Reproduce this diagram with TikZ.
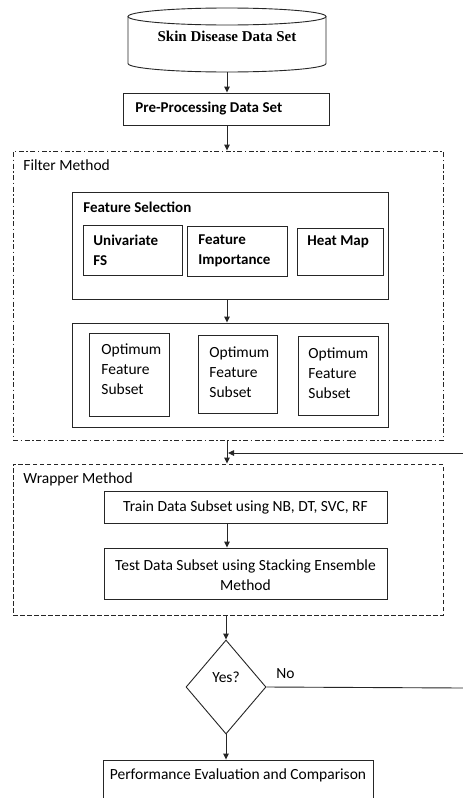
\documentclass[tikz,border=0pt]{standalone}
\usepackage{fontspec}
\setmainfont{Carlito}
\newfontfamily\titlefont{Liberation Serif}
\usetikzlibrary{arrows.meta,shapes.geometric}

\begin{document}
\begin{tikzpicture}[x=1pt,y=-1pt,line width=0.9pt,color=black!85,
  box/.style={draw, rectangle, inner sep=0pt},
  arr/.style={-{Triangle[length=6pt,width=5.5pt]}},
  reg/.style={inner sep=0pt, text=black, font=\fontsize{15.5}{20}\selectfont},
  bld/.style={inner sep=0pt, text=black, font=\bfseries\fontsize{15}{20}\selectfont},
  dashdot/.style={dash pattern=on 5pt off 2.5pt on 1.5pt off 2.5pt},
  dashbox/.style={dash pattern=on 4.5pt off 2.5pt},
]
\clip (0,0) rectangle (463,798);
\fill[white] (0,0) rectangle (463,798);

% data set cylinder
\node[inner sep=0pt, minimum width=198pt, minimum height=64pt] (db) at (227,40) {};
\draw (227,16.5) ellipse[x radius=99pt, y radius=8.5pt];
\draw (128,16.5) -- (128,63.5) arc[start angle=180, end angle=360, x radius=99pt, y radius=8.5pt] -- (326,16.5);
\node[inner sep=0pt, text=black, font=\titlefont\bfseries\fontsize{15}{18}\selectfont] (dbtext) at (227,36) {Skin Disease Data Set};

% pre-processing
\node[box, minimum width=206pt, minimum height=32pt] (pre) at (226,109) {};
\node[bld, anchor=west] (pretext) at (135,109) {Pre-Processing Data Set};

% filter method
\node[box, dashdot, minimum width=430pt, minimum height=289pt] (filter) at (228,295.5) {};
\node[reg, anchor=west] (filtertext) at (23,165) {Filter Method};

\node[box, minimum width=316pt, minimum height=107pt] (fs) at (230,245.5) {};
\node[bld, anchor=west] (fstext) at (83,207) {Feature Selection};

\node[box, minimum width=99pt, minimum height=50pt] (uni) at (132.5,250) {};
\node[bld, anchor=north west, align=left] (unitext) at (93,234.5) {Univariate\\FS};
\node[box, minimum width=100pt, minimum height=50pt] (fi) at (237,251) {};
\node[bld, anchor=north west, align=left] (fitext) at (198,234.5) {Feature\\Importance};
\node[box, minimum width=86pt, minimum height=47pt] (hm) at (340,251.5) {};
\node[bld, anchor=north west, align=left] (hmtext) at (307,235.5) {Heat Map};

\node[box, minimum width=316pt, minimum height=104pt] (opt) at (230,375) {};
\node[box, minimum width=80pt, minimum height=83pt] (o1) at (129,374.5) {};
\node[reg, anchor=north west, align=left] (o1text) at (101,343.5) {Optimum\\Feature\\Subset};
\node[box, minimum width=79pt, minimum height=78pt] (o2) at (237.5,374) {};
\node[reg, anchor=north west, align=left] (o2text) at (209,346.5) {Optimum\\Feature\\Subset};
\node[box, minimum width=80pt, minimum height=79pt] (o3) at (338,375.5) {};
\node[reg, anchor=north west, align=left] (o3text) at (308,347.5) {Optimum\\Feature\\Subset};

% wrapper method
\node[box, dashbox, minimum width=430pt, minimum height=151pt] (wrap) at (228,539.5) {};
\node[reg, anchor=west] (wraptext) at (23,479) {Wrapper Method};
\node[box, minimum width=283pt, minimum height=32pt] (train) at (245.5,507) {};
\node[reg] (traintext) at (245.5,507) {Train Data Subset using NB, DT, SVC, RF};
\node[box, minimum width=283pt, minimum height=51pt] (test) at (245.5,573.5) {};
\node[reg, align=center] (testtext) at (245.5,575) {Test Data Subset using Stacking Ensemble\\Method};

% decision
\node[draw, diamond, inner sep=0pt, minimum width=80pt, minimum height=94pt] (dec) at (226,687) {};
\node[reg] (dectext) at (226,677) {Yes?};
\node[reg, anchor=west] (notext) at (276,674) {No};

% result
\node[box, minimum width=270pt, minimum height=70pt] (perf) at (238,795) {};
\node[reg] (perftext) at (238,775) {Performance Evaluation and Comparison};

% connectors
\coordinate (col) at (227,0);
\coordinate (fbin) at (463,453);
\coordinate (noout) at (463,688);
\draw[arr] (db.south -| col) -- (pre.north -| col);
\draw[arr] (pre.south -| col) -- (filter.north -| col);
\draw[arr] (fs.south -| col) -- (opt.north -| col);
\draw[arr] (filter.south -| col) -- (wrap.north -| col);
\draw[arr] (fbin) -- ([xshift=1pt]fbin -| col);
\draw[arr] (train.south -| col) -- (test.north -| col);
\draw[arr] (wrap.south -| dec) -- (dec.north);
\draw (dec.east) -- (noout);
\draw[arr] (dec.south) -- (perf.north -| dec);
\end{tikzpicture}
\end{document}
